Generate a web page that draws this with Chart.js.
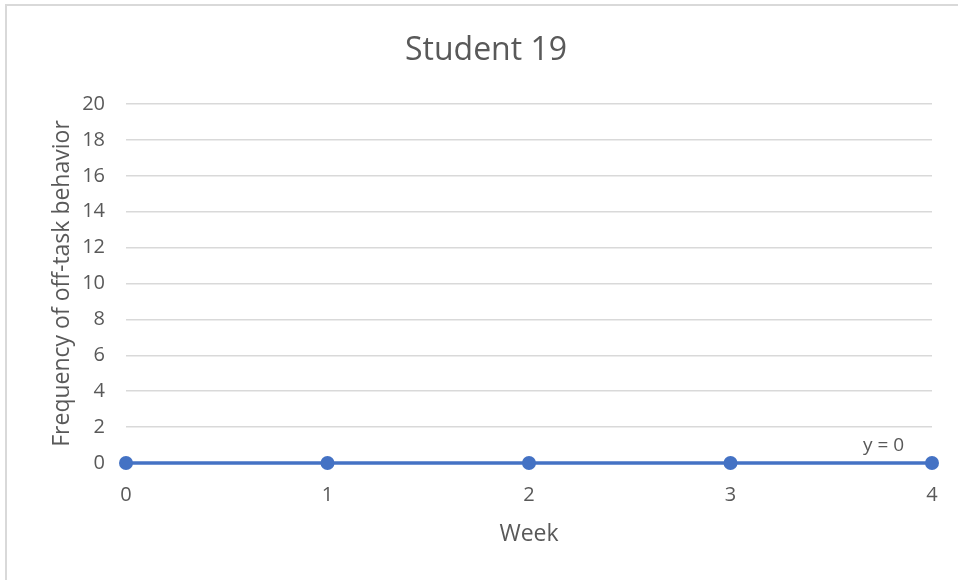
<!DOCTYPE html>
<html>
<head>
<meta charset="utf-8">
<script src="https://cdn.jsdelivr.net/npm/chart.js@4"></script>
<style>
  html, body { margin: 0; padding: 0; background: #ffffff; }
  #wrap { position: relative; width: 958px; height: 580px; }
  #frame { position: absolute; left: 5px; top: 4px; width: 953px; height: 576px;
           border-top: 2px solid #d9d9d9; border-left: 2px solid #d9d9d9; box-sizing: border-box; pointer-events: none; }
</style>
</head>
<body>
<div id="wrap">
  <canvas id="c" width="958" height="580"></canvas>
  <div id="frame"></div>
</div>
<script>
const chartTitle = 'Student 19';
const xAxisTitle = 'Week';
const yAxisTitle = 'Frequency of off-task behavior';
const weeks = [0, 1, 2, 3, 4];
const offTaskValues = [0, 0, 0, 0, 0];
const trendValues = [0, 0, 0, 0, 0];
const trendLabel = 'y = 0';
const trendLabelAt = [3.76, 0];
const yTicks = [0, 2, 4, 6, 8, 10, 12, 14, 16, 18, 20];

const FONT = "'Open Sans', 'Liberation Sans', sans-serif";
const TEXT = '#595959';

const trendLabelPlugin = {
  id: 'trendLabel',
  afterDatasetsDraw(chart) {
    const { ctx, scales } = chart;
    const x = scales.x.getPixelForValue(trendLabelAt[0]);
    const y = scales.y.getPixelForValue(trendLabelAt[1]) - 17;
    ctx.save();
    ctx.font = "19px " + FONT;
    ctx.fillStyle = TEXT;
    ctx.textAlign = 'center';
    ctx.textBaseline = 'middle';
    ctx.fillText(trendLabel, x, y);
    ctx.restore();
  }
};

new Chart(document.getElementById('c'), {
  type: 'line',
  data: {
    datasets: [
      {
        label: 'Student 19',
        data: weeks.map((w, i) => ({ x: w, y: offTaskValues[i] })),
        borderColor: '#4472C4',
        backgroundColor: '#4472C4',
        borderWidth: 3.5,
        pointRadius: 7,
        pointBorderWidth: 0,
        pointBackgroundColor: '#4472C4',
        clip: false,
        order: 1
      },
      {
        label: 'Linear trend',
        data: weeks.map((w, i) => ({ x: w, y: trendValues[i] })),
        borderColor: '#4472C4',
        borderWidth: 2,
        borderDash: [2, 2],
        pointRadius: 0,
        clip: false,
        order: 2
      }
    ]
  },
  options: {
    responsive: false,
    animation: false,
    events: [],
    layout: { padding: { left: 40, right: 26, top: 0, bottom: 0 } },
    plugins: {
      legend: { display: false },
      tooltip: { enabled: false },
      title: {
        display: true,
        text: chartTitle,
        color: TEXT,
        font: { family: FONT, size: 32, weight: 'normal' },
        padding: { top: 32, bottom: 33.6 }
      }
    },
    scales: {
      x: {
        type: 'linear',
        min: 0,
        max: 4,
        afterBuildTicks: (s) => { s.ticks = weeks.map(v => ({ value: v })); },
        afterFit: (s) => { s.height = 117; },
        grid: { display: false, drawTicks: false },
        border: { display: true, color: '#d9d9d9', width: 1.5 },
        ticks: { color: TEXT, font: { family: FONT, size: 20 }, padding: 20 },
        title: {
          display: true, text: xAxisTitle, color: TEXT,
          font: { family: FONT, size: 23, weight: 'normal' },
          padding: { top: 0, bottom: 32 }
        }
      },
      y: {
        min: 0,
        max: 20,
        afterBuildTicks: (s) => { s.ticks = yTicks.map(v => ({ value: v })); },
        afterFit: (s) => { s.width = 86; },
        grid: { color: '#d9d9d9', lineWidth: 1.5, drawTicks: false },
        border: { display: false },
        ticks: { color: TEXT, font: { family: FONT, size: 20 }, padding: 21 },
        title: {
          display: true, text: yAxisTitle, color: TEXT,
          font: { family: FONT, size: 23, weight: 'normal' },
          padding: { top: 9, bottom: 0 }
        }
      }
    }
  },
  plugins: [trendLabelPlugin]
});
</script>
</body>
</html>
